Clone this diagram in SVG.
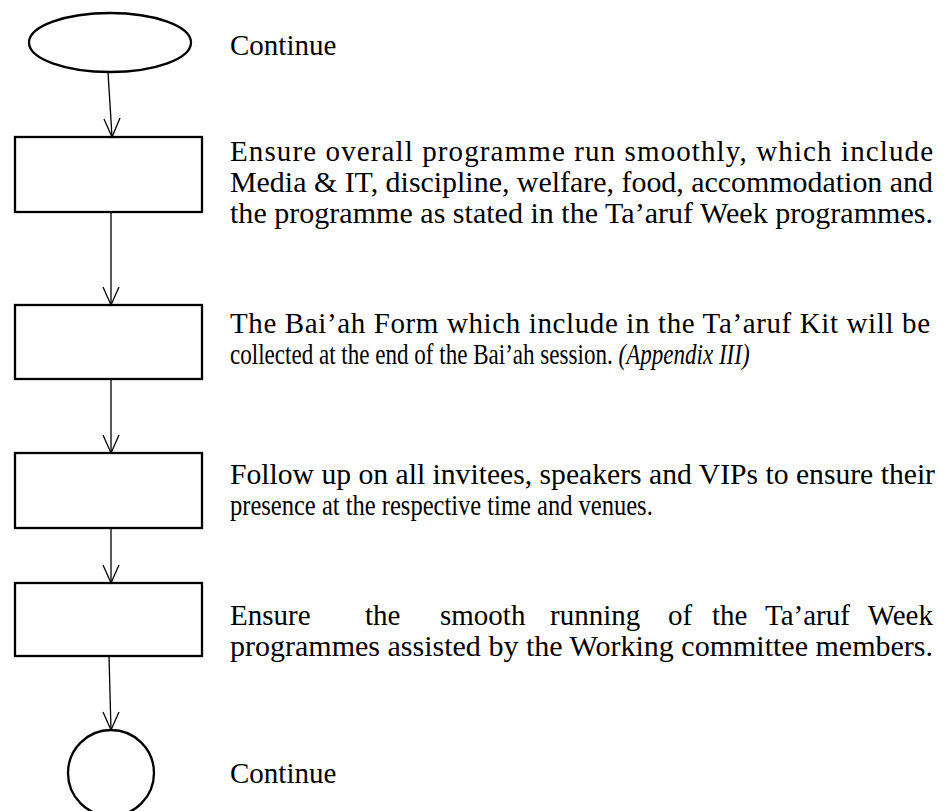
<svg xmlns="http://www.w3.org/2000/svg" width="951" height="811" viewBox="0 0 951 811">
<style>
.shape{fill:none;stroke:#000;stroke-width:2.3}
.conn{fill:none;stroke:#000;stroke-width:1.3}
.t{font-family:"Liberation Serif","Times New Roman",serif;font-size:29px;fill:#000}
.i{font-style:italic}
</style>
<rect width="951" height="811" fill="#fff"/>
<g id="connectors">
<path class="conn" d="M108 72 L112 137"/>
<path class="conn" d="M104 119 L112 137 L120 118"/>
<path class="conn" d="M111 212 L111 305"/>
<path class="conn" d="M103 287 L111 305 L119 287"/>
<path class="conn" d="M111 379 L111 453"/>
<path class="conn" d="M103 435 L111 453 L119 435"/>
<path class="conn" d="M111 528 L111 583"/>
<path class="conn" d="M103 565 L111 583 L119 565"/>
<path class="conn" d="M109 656 L111 730"/>
<path class="conn" d="M103 712 L111 730 L119 712"/>
</g>
<g id="start">
<ellipse class="shape" cx="110" cy="42.5" rx="81" ry="29.5"/>
<text class="t" x="230" y="55">Continue</text>
</g>
<g id="step1">
<rect class="shape" x="15" y="137" width="187" height="75"/>
<text class="t" x="230" y="161" textLength="703" lengthAdjust="spacing">Ensure overall programme run smoothly, which include</text>
<text class="t" x="230" y="192" textLength="703" lengthAdjust="spacingAndGlyphs">Media &amp; IT, discipline, welfare, food, accommodation and</text>
<text class="t" x="230" y="223" textLength="703" lengthAdjust="spacingAndGlyphs">the programme as stated in the Ta’aruf Week programmes.</text>
</g>
<g id="step2">
<rect class="shape" x="15" y="305" width="187" height="74"/>
<text class="t" x="230" y="333" textLength="700" lengthAdjust="spacing">The Bai’ah Form which include in the Ta’aruf Kit will be</text>
<text class="t" transform="translate(230 364) scale(0.795 1)">collected at the end of the Bai’ah session. <tspan class="i">(Appendix III)</tspan></text>
</g>
<g id="step3">
<rect class="shape" x="15" y="453" width="187" height="75"/>
<text class="t" x="230" y="484" textLength="705" lengthAdjust="spacingAndGlyphs">Follow up on all invitees, speakers and VIPs to ensure their</text>
<text class="t" transform="translate(230 515) scale(0.846 1)">presence at the respective time and venues.</text>
</g>
<g id="step4">
<rect class="shape" x="15" y="583" width="187" height="73"/>
<text class="t" y="625"><tspan x="230">Ensure</tspan><tspan x="365">the</tspan><tspan x="440">smooth</tspan><tspan x="550">running</tspan><tspan x="668">of</tspan><tspan x="712">the</tspan><tspan x="765">Ta’aruf</tspan><tspan x="933" text-anchor="end">Week</tspan></text>
<text class="t" x="230" y="656" textLength="703" lengthAdjust="spacingAndGlyphs">programmes assisted by the Working committee members.</text>
</g>
<g id="end">
<circle class="shape" cx="111" cy="773" r="43"/>
<text class="t" x="230" y="783">Continue</text>
</g>
</svg>
